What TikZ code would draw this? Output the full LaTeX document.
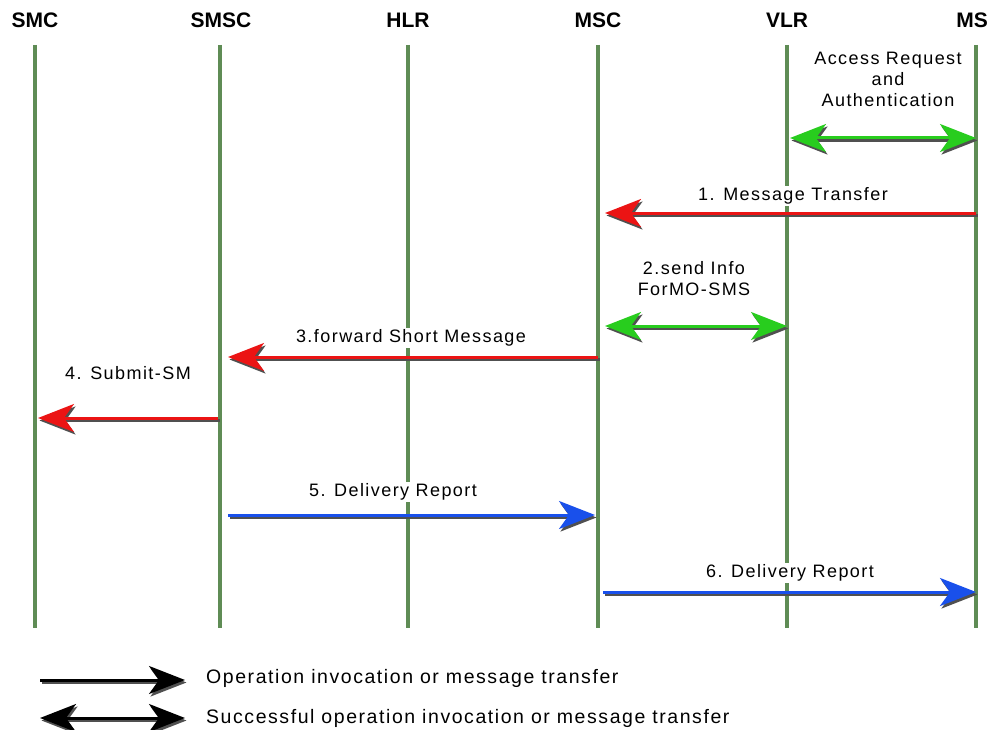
\documentclass[tikz,border=0pt]{standalone}
\usepackage{fontspec}
\setmainfont{Liberation Sans}
\newfontfamily\lblfont[LetterSpace=8]{Liberation Sans}
\usetikzlibrary{arrows.meta}
\definecolor{life}{RGB}{95,140,85}
\definecolor{agreen}{RGB}{40,205,30}
\definecolor{ared}{RGB}{235,20,20}
\definecolor{ablue}{RGB}{25,80,235}
\definecolor{shad}{RGB}{80,80,80}
\tikzset{
  hdr/.style={font=\fontsize{21}{24}\selectfont\bfseries, inner sep=0pt},
  lifeline/.style={draw=life, line width=3.5pt},
  lbl/.style={font=\lblfont\fontsize{18}{21}\selectfont, fill=white, inner sep=2pt, align=center},
  keytext/.style={font=\lblfont\fontsize{19.5}{22}\selectfont, inner sep=2pt, anchor=west},
  tip/.tip={Stealth[length=36pt,width=28pt,inset=10pt]},
  msg/.style={line width=3pt, -tip},
  dmsg/.style={line width=3pt, tip-tip},
  shadow/.style={draw=shad, transform canvas={shift={(1.5pt,-2.5pt)}}},
}
\begin{document}
\begin{tikzpicture}[x=1pt,y=-1pt]
\useasboundingbox (0,0) rectangle (998,730);
% headers
\node[hdr] (smc)  at (35,20)  {SMC};
\node[hdr] (smsc) at (221,20) {SMSC};
\node[hdr] (hlr)  at (408,20) {HLR};
\node[hdr] (msc)  at (598,20) {MSC};
\node[hdr] (vlr)  at (787,20) {VLR};
\node[hdr] (ms)   at (972,20) {MS};
% lifelines
\foreach \n/\x in {smc/35,smsc/220,hlr/408,msc/598,vlr/787,ms/976}{
  \coordinate (\n-t) at (\x,45);
  \coordinate (\n-b) at (\x,628);
  \draw[lifeline] (\n-t) -- (\n-b);
}
% labels
\node[lbl] (lacc) at (888,79) {Access Request\\and\\Authentication};
\node[lbl] (l1) at (793,196) {1. Message Transfer};
\node[lbl] (l2) at (694,279) {2.send Info\\ForMO-SMS};
\node[lbl] (l3) at (411,338) {3.forward Short Message};
\node[lbl] (l4) at (128,373) {4. Submit-SM};
\node[lbl] (l5) at (393,492) {5. Delivery Report};
\node[lbl] (l6) at (790,573) {6. Delivery Report};
% message endpoints
\coordinate (a1) at (790,138);  \coordinate (a2) at (976,138);
\coordinate (m1a) at (976,213); \coordinate (m1b) at (605,213);
\coordinate (m2a) at (605,326); \coordinate (m2b) at (787,326);
\coordinate (m3a) at (598,357); \coordinate (m3b) at (228,357);
\coordinate (m4a) at (218,418); \coordinate (m4b) at (38,418);
\coordinate (m5a) at (228,515); \coordinate (m5b) at (595,515);
\coordinate (m6a) at (603,592); \coordinate (m6b) at (976,592);
% shadows
\draw[dmsg, shadow] (a1) -- (a2);
\draw[msg, shadow] (m1a) -- (m1b);
\draw[dmsg, shadow] (m2a) -- (m2b);
\draw[msg, shadow] (m3a) -- (m3b);
\draw[msg, shadow] (m4a) -- (m4b);
\draw[msg, shadow] (m5a) -- (m5b);
\draw[msg, shadow] (m6a) -- (m6b);
% arrows
\draw[dmsg, agreen] (a1) -- (a2);
\draw[msg, ared] (m1a) -- (m1b);
\draw[dmsg, agreen] (m2a) -- (m2b);
\draw[msg, ared] (m3a) -- (m3b);
\draw[msg, ared] (m4a) -- (m4b);
\draw[msg, ablue] (m5a) -- (m5b);
\draw[msg, ablue] (m6a) -- (m6b);
% legend
\coordinate (k1a) at (40,680); \coordinate (k1b) at (185,680);
\coordinate (k2a) at (40,718); \coordinate (k2b) at (185,718);
\draw[msg, shadow] (k1a) -- (k1b);
\draw[dmsg, shadow] (k2a) -- (k2b);
\draw[msg, black] (k1a) -- (k1b);
\draw[dmsg, black] (k2a) -- (k2b);
\node[keytext] (t1) at (204,678) {Operation invocation or message transfer};
\node[keytext] (t2) at (204,718) {Successful operation invocation or message transfer};
\end{tikzpicture}
\end{document}
